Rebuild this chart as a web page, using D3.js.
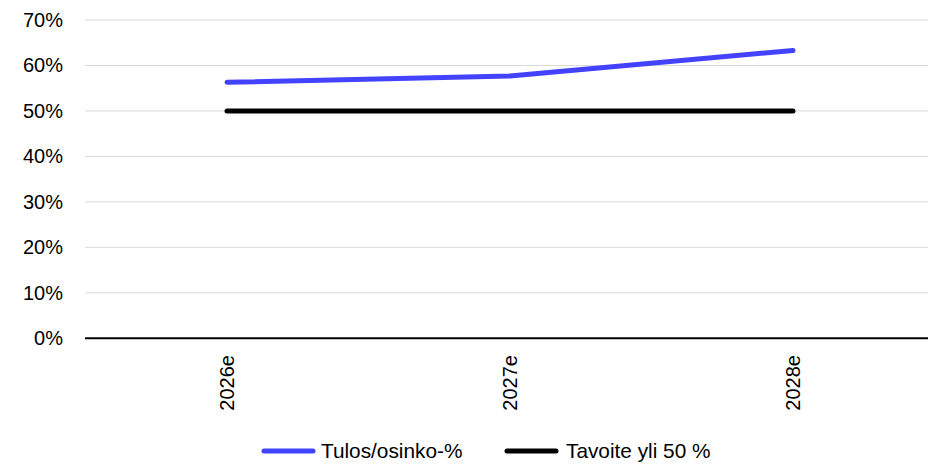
<!DOCTYPE html>
<html><head><meta charset="utf-8">
<script src="https://cdn.jsdelivr.net/npm/d3@7/dist/d3.min.js"></script>
<style>body{margin:0;background:#fff}svg{display:block}text{font-family:"Liberation Sans",Arial,sans-serif}</style>
</head><body><svg id="c" width="928" height="465"></svg>
<script>
const categories = ["2026e", "2027e", "2028e"];
const payoutRatio = [56.3, 57.7, 63.3];
const target = [50, 50, 50];
const yTicks = [0, 10, 20, 30, 40, 50, 60, 70];
const seriesNames = ["Tulos/osinko-%", "Tavoite yli 50 %"];
const seriesColors = ["#4343ff", "#000000"];

const svg = d3.select("#c");
const W = 928;
const x = d3.scaleBand().domain(categories).range([85.5, 934.5]);
const y = d3.scaleLinear().domain([0, 70]).range([338.3, 20]);
const cx = d => x(d) + x.bandwidth() / 2;

// gridlines
svg.append("g").selectAll("line").data(yTicks.filter(t => t > 0)).join("line")
  .attr("x1", 85).attr("x2", W).attr("y1", d => y(d)).attr("y2", d => y(d))
  .attr("stroke", "#d9d9d9").attr("stroke-width", 1);

// y axis labels
svg.append("g").selectAll("text").data(yTicks).join("text")
  .attr("x", 63).attr("y", d => y(d)).attr("dy", "0.35em")
  .attr("text-anchor", "end").attr("font-size", 20).attr("fill", "#000")
  .text(d => d + "%");

// x axis line
svg.append("line").attr("x1", 85).attr("x2", W).attr("y1", y(0)).attr("y2", y(0))
  .attr("stroke", "#000").attr("stroke-width", 2);

// x labels rotated
svg.append("g").selectAll("text").data(categories).join("text")
  .attr("transform", d => `translate(${cx(d) + 7},355) rotate(-90)`)
  .attr("text-anchor", "end").attr("font-size", 20).attr("fill", "#000")
  .text(d => d);

const line = d3.line().x((d, i) => cx(categories[i])).y(d => y(d));
[payoutRatio, target].forEach((s, i) => {
  svg.append("path").datum(s).attr("d", line).attr("fill", "none")
    .attr("stroke", seriesColors[i]).attr("stroke-width", 5)
    .attr("stroke-linecap", "round").attr("stroke-linejoin", "round");
});

// legend
const leg = [{x1: 264, x2: 313, tx: 321}, {x1: 507, x2: 556, tx: 566}];
seriesNames.forEach((n, i) => {
  svg.append("line").attr("x1", leg[i].x1).attr("x2", leg[i].x2).attr("y1", 451).attr("y2", 451)
    .attr("stroke", seriesColors[i]).attr("stroke-width", 5).attr("stroke-linecap", "round");
  svg.append("text").attr("x", leg[i].tx).attr("y", 451).attr("dy", "0.35em")
    .attr("font-size", 20.8).attr("fill", "#000").text(n);
});
</script></body></html>
